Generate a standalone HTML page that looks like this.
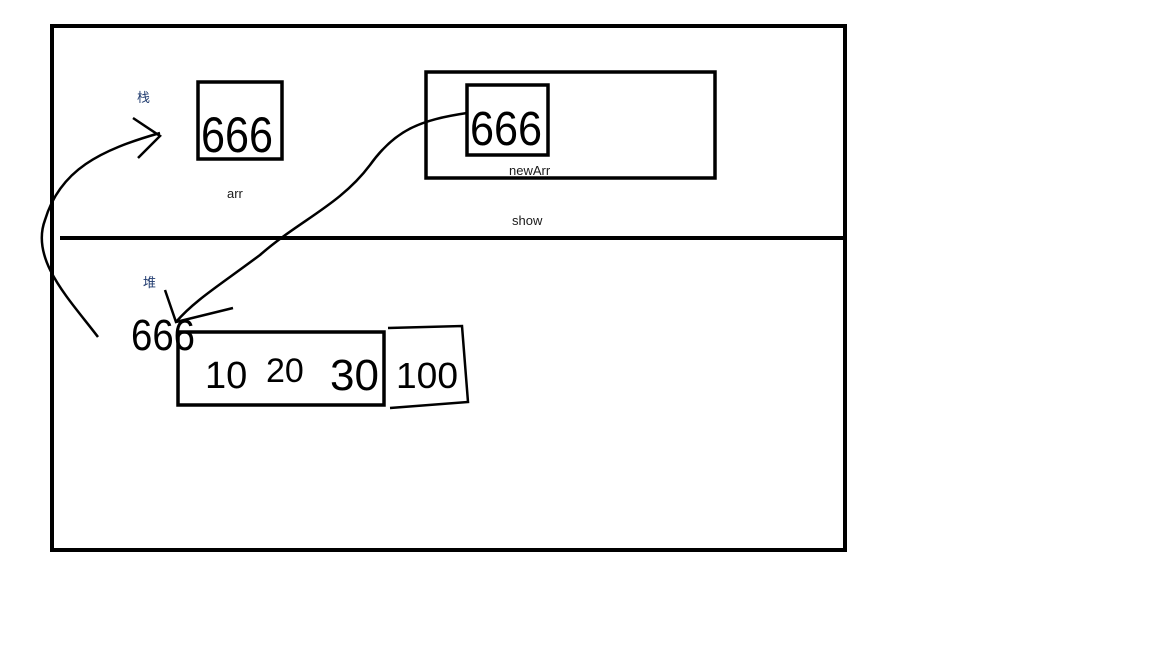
<!DOCTYPE html>
<html><head><meta charset="utf-8"><style>
html,body{margin:0;padding:0;background:#fff;width:1152px;height:648px;overflow:hidden}
svg{display:block}
.lbl{font-family:"Liberation Sans","Noto Sans CJK SC",sans-serif;font-size:13px;fill:#1a1a1a}
.cjk{font-family:"Liberation Sans","Noto Sans CJK SC",sans-serif;font-size:13px;fill:#1f3a6e}
.hand{font-family:"Liberation Sans","Noto Sans CJK SC",sans-serif;fill:#000;font-weight:normal}
</style></head><body>
<svg width="1152" height="648" viewBox="0 0 1152 648">
<rect x="52" y="26" width="793" height="524" fill="none" stroke="#000" stroke-width="4"/>
<line x1="60" y1="238" x2="846" y2="238" stroke="#000" stroke-width="4"/>
<rect x="198" y="82" width="84" height="77" fill="none" stroke="#000" stroke-width="3.5"/>
<rect x="426" y="72" width="289" height="106" fill="none" stroke="#000" stroke-width="3.5"/>
<rect x="467" y="85" width="81" height="70" fill="none" stroke="#000" stroke-width="3.5"/>
<rect x="178" y="332" width="206" height="73" fill="none" stroke="#000" stroke-width="3.5"/>
<path d="M388 328 L462 326 L468 402 L390 408" fill="none" stroke="#000" stroke-width="2.5"/>
<text x="137" y="102" class="cjk">栈</text>
<text x="143" y="287" class="cjk">堆</text>
<text x="227" y="198" class="lbl">arr</text>
<text x="509" y="175" class="lbl">newArr</text>
<text x="512" y="225" class="lbl">show</text>
<text x="201" y="152" class="hand" font-size="50" textLength="72" lengthAdjust="spacingAndGlyphs">666</text>
<text x="470" y="145" class="hand" font-size="48" textLength="72" lengthAdjust="spacingAndGlyphs">666</text>
<text x="131" y="350" class="hand" font-size="44" textLength="64" lengthAdjust="spacingAndGlyphs">666</text>
<text x="205" y="388" class="hand" font-size="38">10</text>
<text x="266" y="382" class="hand" font-size="34">20</text>
<text x="330" y="390" class="hand" font-size="44">30</text>
<text x="396" y="388" class="hand" font-size="36" textLength="62" lengthAdjust="spacingAndGlyphs">100</text>
<path d="M98 337 C70 300,30 260,45 220 C60 170,100 150,160 133" fill="none" stroke="#000" stroke-width="2.5"/>
<path d="M133 118 L160 136 L138 158" fill="none" stroke="#000" stroke-width="2.5"/>
<path d="M467 113 C420 120,395 130,370 165 C340 205,300 220,260 255 C220 285,195 300,176 322" fill="none" stroke="#000" stroke-width="2.5"/>
<path d="M165 290 L176 322 L233 308" fill="none" stroke="#000" stroke-width="2.5"/>
</svg>
</body></html>
